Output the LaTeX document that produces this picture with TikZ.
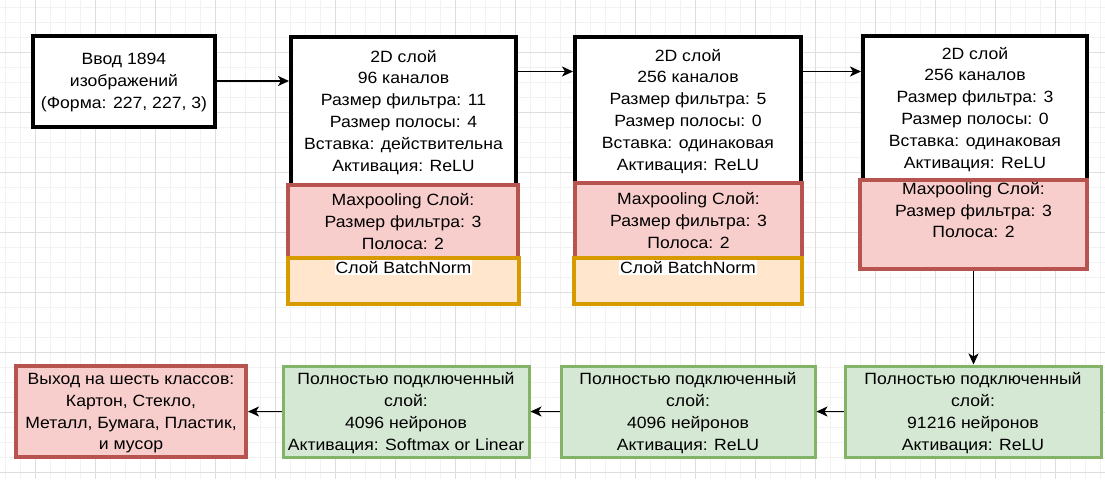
\documentclass[tikz,border=0pt]{standalone}
\usepackage{fontspec}
\setmainfont{Liberation Sans}[FakeStretch=1.08]
\usetikzlibrary{arrows.meta,calc}

\definecolor{gridmajor}{HTML}{DEDEDE}
\definecolor{gridminor}{HTML}{F2F2F2}
\definecolor{poolfill}{HTML}{F8CECC}
\definecolor{pooldraw}{HTML}{B85450}
\definecolor{normfill}{HTML}{FFE6CC}
\definecolor{normdraw}{HTML}{D79B00}
\definecolor{densefill}{HTML}{D5E8D4}
\definecolor{densedraw}{HTML}{82B366}

\tikzset{
  box/.style={rectangle, align=center, inner sep=0pt,
    font=\fontsize{16.3}{21.8}\selectfont},
  boxtext/.style={text depth=-4pt},
  convbox/.style={box, boxtext, draw=black, fill=white, line width=4pt},
  poolbox/.style={box, boxtext, draw=pooldraw, fill=poolfill, line width=4pt},
  normbox/.style={box, draw=normdraw, fill=normfill, line width=3.5pt},
  densebox/.style={box, boxtext, draw=densedraw, fill=densefill, line width=3pt},
  toplabel/.style={anchor=north, align=center, inner sep=1pt,
    font=\fontsize{16.3}{21.8}\selectfont},
  arr/.style={line width=1.7pt, -{Stealth[length=11pt,width=10pt,inset=3pt]}},
}

\begin{document}
\begin{tikzpicture}[x=1pt,y=-1pt]
\useasboundingbox (0,0) rectangle (1105,479);

% background grid
\foreach \gx in {5,20,...,1100} \draw[gridminor, line width=0.6pt] (\gx,0) -- (\gx,479);
\foreach \gy in {7,22,...,477} \draw[gridminor, line width=0.6pt] (0,\gy) -- (1105,\gy);
\foreach \gx in {35,95,...,1055} \draw[gridmajor, line width=0.8pt] (\gx,0) -- (\gx,479);
\foreach \gy in {52,112,...,472} \draw[gridmajor, line width=0.8pt] (0,\gy) -- (1105,\gy);

% input
\node[convbox, minimum width=182pt, minimum height=91pt] (inp) at (124,81)
  {Ввод 1894\\изображений\\(Форма: 227, 227, 3)};

% first block
\node[convbox, minimum width=225pt, minimum height=148pt] (c1) at (403.5,110.5)
  {2D слой\\96 каналов\\Размер фильтра: 11\\Размер полосы: 4\\Вставка: действительна\\Активация: ReLU};
\node[poolbox, minimum width=230pt, minimum height=73pt] (mp1) at (403,221.5)
  {Maxpooling Слой:\\Размер фильтра: 3\\Полоса: 2};
\node[normbox, minimum width=231pt, minimum height=46pt,
  label={[toplabel, fill=white, yshift=-4pt]north:Слой BatchNorm}] (bn1) at (403.5,281) {};

% second block
\node[convbox, minimum width=226pt, minimum height=146pt] (c2) at (688,109.5)
  {2D слой\\256 каналов\\Размер фильтра: 5\\Размер полосы: 0\\Вставка: одинаковая\\Активация: ReLU};
\node[poolbox, minimum width=227pt, minimum height=75pt] (mp2) at (688.5,220.5)
  {Maxpooling Слой:\\Размер фильтра: 3\\Полоса: 2};
\node[normbox, minimum width=228pt, minimum height=46pt,
  label={[toplabel, fill=white, yshift=-4pt]north:Слой BatchNorm}] (bn2) at (688,281) {};

% third block
\node[convbox, minimum width=224pt, minimum height=144pt] (c3) at (975,107.5)
  {2D слой\\256 каналов\\Размер фильтра: 3\\Размер полосы: 0\\Вставка: одинаковая\\Активация: ReLU};
\node[poolbox, minimum width=227pt, minimum height=89pt,
  label={[toplabel, yshift=-3pt]north:Maxpooling Слой:\\Размер фильтра: 3\\Полоса: 2}] (mp3) at (973.5,224.5) {};

% dense layers and output
\node[densebox, minimum width=256pt, minimum height=91pt] (fc3) at (973,411.5)
  {Полностью подключенный\\слой:\\91216 нейронов\\Активация: ReLU};
\node[densebox, minimum width=254pt, minimum height=91pt] (fc2) at (688,411.5)
  {Полностью подключенный\\слой:\\4096 нейронов\\Активация: ReLU};
\node[densebox, minimum width=246pt, minimum height=91pt] (fc1) at (406,411.5)
  {Полностью подключенный\\слой:\\4096 нейронов\\Активация: Softmax or Linear};
\node[poolbox, minimum width=230pt, minimum height=91pt] (out) at (131,411.5)
  {Выход на шесть классов:\\Картон, Стекло,\\Металл, Бумага, Пластик,\\и мусор};

% connectors
\draw[arr] (inp.east) -- (inp.east -| c1.west);
\draw[arr] ([yshift=-37pt]c1.north east) -- ([yshift=-37pt]c2.north west);
\draw[arr] ([yshift=-37pt]c2.north east) -- ([yshift=-37pt]c2.north east -| c3.west);
\draw[arr] (mp3.south) -- (mp3.south |- fc3.north);
\draw[arr] (fc3.west) -- (fc3.west -| fc2.east);
\draw[arr] (fc2.west) -- (fc2.west -| fc1.east);
\draw[arr] (fc1.west) -- (fc1.west -| out.east);
\end{tikzpicture}
\end{document}
